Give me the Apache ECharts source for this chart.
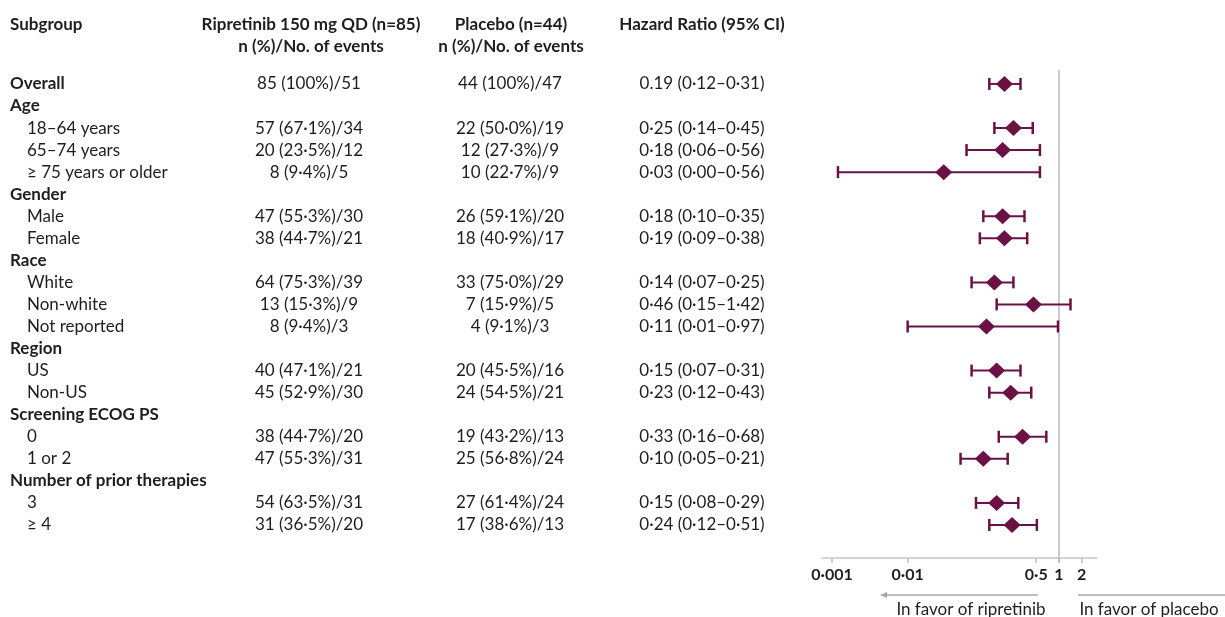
<!DOCTYPE html>
<html>
<head>
<meta charset="utf-8">
<script src="https://cdn.jsdelivr.net/npm/echarts@6/dist/echarts.min.js"></script>
<style>
  html, body { margin: 0; padding: 0; background: #fff; }
  #chart { width: 1225px; height: 617px; }
</style>
</head>
<body>
<div id="chart"></div>
<script>
// Subgroup rows, top to bottom
const rowLabels = ['Overall', 'Age', '18–64 years', '65–74 years', '≥ 75 years or older',
  'Gender', 'Male', 'Female', 'Race', 'White', 'Non-white', 'Not reported',
  'Region', 'US', 'Non-US', 'Screening ECOG PS', '0', '1 or 2',
  'Number of prior therapies', '3', '≥ 4'];
const rowIsGroup = [1, 1, 0, 0, 0, 1, 0, 0, 1, 0, 0, 0, 1, 0, 0, 1, 0, 0, 1, 0, 0];

const ripretinibCol = ['85 (100%)/51', '', '57 (67·1%)/34', '20 (23·5%)/12', '8 (9·4%)/5',
  '', '47 (55·3%)/30', '38 (44·7%)/21', '', '64 (75·3%)/39', '13 (15·3%)/9', '8 (9·4%)/3',
  '', '40 (47·1%)/21', '45 (52·9%)/30', '', '38 (44·7%)/20', '47 (55·3%)/31',
  '', '54 (63·5%)/31', '31 (36·5%)/20'];
const placeboCol = ['44 (100%)/47', '', '22 (50·0%)/19', '12 (27·3%)/9', '10 (22·7%)/9',
  '', '26 (59·1%)/20', '18 (40·9%)/17', '', '33 (75·0%)/29', '7 (15·9%)/5', '4 (9·1%)/3',
  '', '20 (45·5%)/16', '24 (54·5%)/21', '', '19 (43·2%)/13', '25 (56·8%)/24',
  '', '27 (61·4%)/24', '17 (38·6%)/13'];
const hrCol = ['0.19 (0·12–0·31)', '', '0·25 (0·14–0·45)', '0·18 (0·06–0·56)', '0·03 (0·00–0·56)',
  '', '0·18 (0·10–0·35)', '0·19 (0·09–0·38)', '', '0·14 (0·07–0·25)', '0·46 (0·15–1·42)', '0·11 (0·01–0·97)',
  '', '0·15 (0·07–0·31)', '0·23 (0·12–0·43)', '', '0·33 (0·16–0·68)', '0·10 (0·05–0·21)',
  '', '0·15 (0·08–0·29)', '0·24 (0·12–0·51)'];

// Hazard ratios and 95% CI bounds (null for group heading rows)
const hrEst  = [0.19, null, 0.25, 0.18, 0.03,   null, 0.18, 0.19, null, 0.14, 0.46, 0.11, null, 0.15, 0.23, null, 0.33, 0.10, null, 0.15, 0.24];
const ciLow  = [0.12, null, 0.14, 0.06, 0.0012, null, 0.10, 0.09, null, 0.07, 0.15, 0.01, null, 0.07, 0.12, null, 0.16, 0.05, null, 0.08, 0.12];
const ciHigh = [0.31, null, 0.45, 0.56, 0.56,   null, 0.35, 0.38, null, 0.25, 1.42, 0.97, null, 0.31, 0.43, null, 0.68, 0.21, null, 0.29, 0.51];

// Axis ticks
const tickValues = [0.001, 0.01, 0.5, 1, 2];
const tickLabels = ['0·001', '0·01', '0·5', '1', '2'];

const headerRow1 = ['Subgroup', 'Ripretinib 150 mg QD (n=85)', 'Placebo (n=44)', 'Hazard Ratio (95% CI)'];
const headerRow2 = ['', 'n (%)/No. of events', 'n (%)/No. of events', ''];

const FONT = 'Lato, "Open Sans", sans-serif';
const FS = 17;
const TEXT = '#1e1e1e';
const MARK = '#6b1244';

const COL_X = { label: 10, indent: 27, rip: 309, pla: 510, hr: 702 };
const HEAD_ROW1 = -2.68, HEAD_ROW2 = -1.68;

function textEl(str, x, y, align, bold) {
  return {
    type: 'text',
    style: {
      text: str, x: x, y: y,
      align: align, verticalAlign: 'middle',
      textAlign: align, textVerticalAlign: 'middle',
      font: (bold ? 'bold ' : '') + FS + 'px ' + FONT,
      fill: TEXT
    }
  };
}

const tableData = rowLabels.map((_, i) => [1, i]);
const forestData = [];
hrEst.forEach((v, i) => {
  if (v !== null) forestData.push([v, i, ciLow[i], ciHigh[i]]);
});

const chart = echarts.init(document.getElementById('chart'), null, { renderer: 'canvas' });

chart.setOption({
  animation: false,
  backgroundColor: '#ffffff',
  grid: { left: 822, right: 128, top: 6.75, bottom: 59, containLabel: false },
  xAxis: {
    type: 'log',
    logBase: 10,
    min: 0.000738,
    max: 3.18,
    axisLine: { show: true, onZero: false, lineStyle: { color: '#c8c8c8', width: 1.5 } },
    axisTick: { show: true, customValues: tickValues, length: 5, lineStyle: { color: '#bdbdbd', width: 1.5 } },
    minorTick: { show: false },
    splitLine: { show: false },
    axisLabel: {
      customValues: tickValues,
      margin: 9,
      color: TEXT,
      fontFamily: FONT,
      fontWeight: 'bold',
      fontSize: 16,
      formatter: function (v) {
        let best = 0;
        tickValues.forEach((t, k) => {
          if (Math.abs(Math.log10(t) - Math.log10(v)) < Math.abs(Math.log10(tickValues[best]) - Math.log10(v))) best = k;
        });
        return tickLabels[best];
      }
    }
  },
  yAxis: {
    type: 'value',
    inverse: true,
    min: -3.5,
    max: 21.5,
    show: false
  },
  graphic: [
    // direction arrows under the axis
    { type: 'line', shape: { x1: 1038, y1: 595, x2: 884, y2: 595 }, style: { stroke: '#a9a9a9', lineWidth: 1.5 } },
    { type: 'polygon', shape: { points: [[880, 595], [887, 592], [887, 598]] }, style: { fill: '#a9a9a9' } },
    { type: 'line', shape: { x1: 1078, y1: 595, x2: 1225, y2: 595 }, style: { stroke: '#a9a9a9', lineWidth: 1.5 } },
    { type: 'text', style: { text: 'In favor of ripretinib', x: 971, y: 610, align: 'center', verticalAlign: 'middle', textAlign: 'center', textVerticalAlign: 'middle', font: FS + 'px ' + FONT, fill: TEXT } },
    { type: 'text', style: { text: 'In favor of placebo', x: 1149, y: 610, align: 'center', verticalAlign: 'middle', textAlign: 'center', textVerticalAlign: 'middle', font: FS + 'px ' + FONT, fill: TEXT } }
  ],
  series: [
    {
      // table columns on the left
      type: 'custom',
      clip: false,
      silent: true,
      data: tableData,
      encode: { x: 0, y: 1 },
      renderItem: function (params, api) {
        const i = api.value(1);
        const y = api.coord([1, i])[1];
        const children = [];
        const g = rowIsGroup[i] === 1;
        children.push(textEl(rowLabels[i], g ? COL_X.label : COL_X.indent, y, 'left', g));
        if (ripretinibCol[i]) children.push(textEl(ripretinibCol[i], COL_X.rip, y, 'center', false));
        if (placeboCol[i]) children.push(textEl(placeboCol[i], COL_X.pla, y, 'center', false));
        if (hrCol[i]) children.push(textEl(hrCol[i], COL_X.hr, y, 'center', false));
        if (i === 0) {
          const y1 = api.coord([1, HEAD_ROW1])[1];
          const y2 = api.coord([1, HEAD_ROW2])[1];
          children.push(textEl(headerRow1[0], COL_X.label, y1, 'left', true));
          children.push(textEl(headerRow1[1], COL_X.rip + 2, y1, 'center', true));
          children.push(textEl(headerRow1[2], COL_X.pla + 1, y1, 'center', true));
          children.push(textEl(headerRow1[3], COL_X.hr, y1, 'center', true));
          children.push(textEl(headerRow2[1], COL_X.rip + 2, y2, 'center', true));
          children.push(textEl(headerRow2[2], COL_X.pla + 1, y2, 'center', true));
        }
        return { type: 'group', children: children };
      },
      z: 1
    },
    {
      // line of no effect at HR = 1
      type: 'custom',
      clip: false,
      silent: true,
      data: [[1, -0.635, 21.72]],
      encode: { x: 0, y: [1, 2] },
      renderItem: function (params, api) {
        const a = api.coord([api.value(0), api.value(1)]);
        const b = api.coord([api.value(0), api.value(2)]);
        return { type: 'line', shape: { x1: a[0], y1: a[1], x2: b[0], y2: b[1] }, style: { stroke: '#b9b9b9', lineWidth: 1.5 } };
      },
      z: 2
    },
    {
      // hazard ratio estimates with 95% CI whiskers
      type: 'custom',
      clip: false,
      silent: true,
      data: forestData,
      encode: { x: [0, 2, 3], y: 1 },
      renderItem: function (params, api) {
        const row = api.value(1);
        const p = api.coord([api.value(0), row]);
        const l = api.coord([api.value(2), row]);
        const h = api.coord([api.value(3), row]);
        const cap = 6, dw = 8.5, dh = 8;
        return {
          type: 'group',
          children: [
            { type: 'line', shape: { x1: l[0], y1: p[1], x2: h[0], y2: p[1] }, style: { stroke: MARK, lineWidth: 2 } },
            { type: 'line', shape: { x1: l[0], y1: p[1] - cap, x2: l[0], y2: p[1] + cap }, style: { stroke: MARK, lineWidth: 2.5 } },
            { type: 'line', shape: { x1: h[0], y1: p[1] - cap, x2: h[0], y2: p[1] + cap }, style: { stroke: MARK, lineWidth: 2.5 } },
            { type: 'polygon', shape: { points: [[p[0] - dw, p[1]], [p[0], p[1] - dh], [p[0] + dw, p[1]], [p[0], p[1] + dh]] }, style: { fill: MARK } }
          ]
        };
      },
      z: 3
    }
  ]
});
</script>
</body>
</html>
